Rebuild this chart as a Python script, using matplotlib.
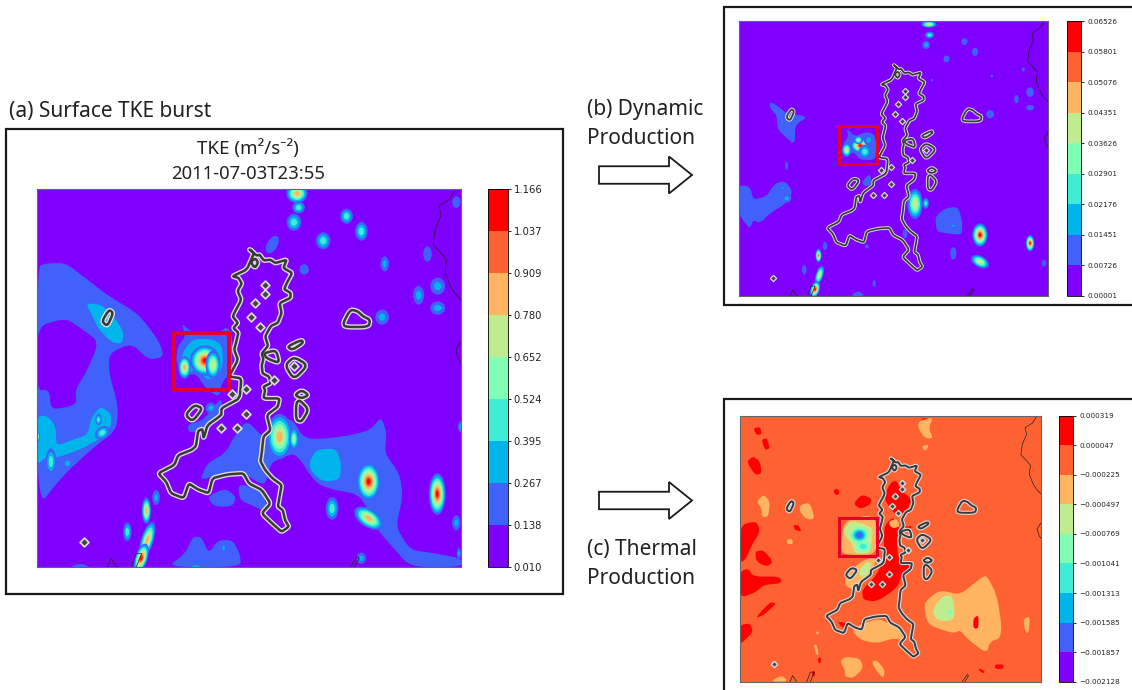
#!/usr/bin/env python3
import numpy as np
import matplotlib
matplotlib.use("Agg")
import matplotlib.pyplot as plt
from matplotlib.cm import ScalarMappable
from matplotlib.colors import BoundaryNorm, ListedColormap
from matplotlib.patches import Ellipse, FancyArrow, PathPatch, Rectangle
from matplotlib.path import Path

W, H = 1132, 690
plt.rcParams["font.family"] = ["Noto Sans", "DejaVu Sans"]

tke_levels = [0.010, 0.138, 0.267, 0.395, 0.524, 0.652, 0.780, 0.909, 1.037, 1.166]
dyn_levels = [0.00001, 0.00726, 0.01451, 0.02176, 0.02901, 0.03626, 0.04351, 0.05076, 0.05801, 0.06526]
thm_levels = [-0.002128, -0.001857, -0.001585, -0.001313, -0.001041, -0.000769, -0.000497, -0.000225, 0.000047, 0.000319]

city_outline = [(50, 15.9), (51.8, 17.6), (52.5, 17.4), (53.5, 18.9), (55.1, 18.7), (56.2, 19.6), (58.9, 18.7), (58.1, 20.9),
                (60.2, 22.2), (58.9, 24.9), (58.3, 26.5), (59.8, 27.5), (59.8, 28.8), (57.2, 30.2), (57.7, 32.8),
                (56.8, 35.4), (55.2, 36.2), (53.8, 39), (54.5, 41.5), (53, 43.5), (53.4, 45), (53, 46.6), (53.2, 48.8),
                (54.7, 49.6), (55.1, 51.4), (53.4, 52.3), (53.8, 53.2), (53.4, 55.4), (57.2, 55.4), (56.8, 57.6),
                (54.2, 59.8), (55.1, 63.8), (53.4, 65.5), (53, 69.9), (52.7, 72), (53.8, 74.3), (55.5, 76.5),
                (57.7, 78.3), (57.2, 81.4), (56.8, 84), (58, 85), (58.5, 87.6), (59.4, 89.3), (57.7, 90.7), (55.5, 88.5),
                (53, 85.8), (55.1, 83.2), (53, 79.6), (50, 77.9), (48.7, 75.2), (45, 75.5), (41.4, 76.5), (40.5, 80.5),
                (38, 79.5), (35.8, 77.9), (34.6, 81.8), (31.6, 80.5), (30.5, 77.5), (28.6, 75.2), (32.4, 73), (33.3, 70.4),
                (36.5, 69), (37.5, 68), (38, 64), (39, 63.5), (39.3, 66), (40.2, 62.5), (43.5, 59.8), (43.5, 58),
                (47.8, 55.4), (48.2, 50.1), (45.3, 49.6), (47.4, 45.2), (46.5, 42.5), (47, 40.4), (47.5, 38), (46.3, 36.8),
                (47.4, 35.4), (46.1, 33.7), (48.2, 29.3), (47.3, 27), (48.3, 25), (47.5, 23.5), (46.1, 23.1), (49.5, 21.3),
                (51.2, 16.9)]
city_islands = [
    [(72.2, 35.4), (73.9, 31.9), (75.6, 32.3), (76.9, 33.7), (78.6, 34.6), (78.2, 36.5), (72.6, 36.5)],
    [(15.3, 35), (17, 31.9), (18, 32.8), (16.6, 36.3)],
    [(58.5, 46.6), (60.6, 44.4), (63.9, 46.6), (60.6, 50.4)],
    [(35, 59.8), (37.1, 57.1), (39.1, 58), (36.7, 61.5)],
    [(60.8, 54.5), (62.4, 53.2), (64.1, 54.5), (62.4, 55.4)],
    [(61.1, 56.7), (61.9, 55.8), (64.1, 58.3), (62.4, 61.6), (61.1, 61.1)],
    [(59, 41.7), (62.4, 39.9), (62.8, 40.7), (60.2, 42.6)],
    [(53.4, 43.5), (56.4, 42.6), (57.2, 46.1), (54.2, 44.8)],
    [(50.4, 19.4), (51.4, 18.3), (52.2, 19.4), (51.4, 20.9)],
]
diamond_x = [53.8, 53.8, 51.5, 50.4, 52.7, 55.9, 49.4, 45.9, 49.4, 43.5, 47.1, 11.2, 60.6]
diamond_y = [25.3, 27.7, 30.2, 33.9, 36.5, 50.5, 53, 54.3, 59.4, 63.1, 63.1, 93.5, 46.8]
border_lines = [
    [(98.5, 0.6), (97.2, 2.8), (94.8, 4.5), (95.3, 7), (93.9, 10.7), (93.4, 14.7), (95.3, 16.9), (96.6, 18.7),
     (96.2, 22), (97.5, 25.7), (98.5, 27.5), (100, 29.3)],
    [(100, 40.4), (98.8, 42.6), (99.5, 45.2), (100, 46)],
    [(16.6, 100), (17.5, 97.7), (18.8, 100)],
    [(22.2, 100), (23.4, 96.4), (24.7, 96.4), (23.4, 100)],
    [(73.9, 100), (75.6, 97.3), (76, 97.7), (74.8, 100)],
]

# (a) TKE regions, level index -> polygons
tke_blue = [
    [(0, 20.5), (2.5, 19.6), (6.8, 19.6), (11.9, 24), (17, 28.4), (23, 32.4), (25.6, 35.4), (29, 40.7), (29.9, 44.4),
     (26.4, 45.2), (22.2, 40.8), (17, 43.5), (17, 48.8), (19.2, 57.6), (18.7, 63.8), (12.7, 69), (5.9, 76.1), (0, 84.5)],
    [(49.5, 61.1), (53.5, 66), (56, 62), (60, 60.5), (63.2, 66.4), (72.6, 65.5), (78.6, 63.8), (81.2, 60.2), (82.5, 64.6),
     (82, 69.9), (85.5, 75.2), (86.3, 81.4), (84.6, 89.3), (88, 95.5), (94, 96.4), (100, 97.7), (100, 100), (88, 100),
     (83.8, 94.6), (80.3, 90.2), (76.9, 82.3), (74.8, 80.5), (70, 79.6), (65.8, 77.9), (61.1, 70), (58.1, 70.8),
     (55.1, 72.6), (53.8, 78.7), (48.7, 75.2), (41.8, 76), (38.4, 77), (40.1, 72.6), (44.4, 69.9), (46.5, 65.5)],
    [(40.1, 81.4), (44.4, 79.2), (47, 81.4), (46.1, 84), (41.8, 84)],
    [(47.4, 77.9), (53, 79.6), (54.7, 85.8), (51.3, 84), (47.8, 82.3)],
    [(30.7, 100), (35, 96.4), (36.7, 92), (38.8, 92), (40.5, 96.4), (42.7, 92.9), (46.1, 92.9), (47.8, 96.4), (48.2, 100)],
    [(7.6, 100), (10.2, 99), (12.7, 100)],
    [(35.4, 62.4), (39.3, 61.1), (43.5, 55), (43.7, 58.9), (39.3, 63.8), (35.9, 64.6)],
    [(34.1, 35.4), (36.2, 37.7), (41.7, 39), (44.8, 36.3), (46.1, 39), (46.1, 47.9), (43.5, 51.4), (43, 55), (40.1, 53.2),
     (37.5, 48.8), (34.6, 49.6), (32.8, 46.1), (33.1, 41.7), (35, 39)],
]
tke_purple_hole = [[(0, 36.3), (6.8, 34.2), (10.3, 36.8), (14.6, 40.4), (11.9, 47.9), (9, 53.2), (9.4, 57.1), (3.3, 58.5),
                    (2.9, 53.2), (0, 53.2)]]
tke_cyan = [
    [(11.5, 30.2), (15.3, 30.6), (18.7, 34.6), (20.5, 38), (20, 41), (17.5, 40.5), (14.5, 37), (13, 33.5)],
    [(0, 60), (2.5, 60), (4.5, 63), (4.5, 68), (8, 66.5), (12, 65), (12.8, 60.5), (15, 57.5), (17.5, 59.5), (17.5, 63),
     (15, 66), (10, 69), (5, 71), (2, 71), (0, 73)],
    [(64.1, 72.6), (65.8, 69), (70.5, 68.6), (71.8, 72.6), (71.4, 77), (67.5, 77.4), (65, 75.2)],
    [(33.5, 46), (35, 42), (37, 39.7), (41, 39.7), (43.5, 41), (44, 46), (42.5, 50), (40, 50.5), (38, 47), (35.5, 49)],
]
# spots: x, y, width, height, top level, angle
tke_spots = [
    (61.3, 1.2, 5, 5, 6, 0), (61.7, 4.9, 3, 3.2, 3, 0), (60.6, 8.8, 3.5, 4.5, 3, 0), (73, 7.2, 3, 4, 3, 0),
    (76.5, 11.2, 3, 5, 3, 0), (67.5, 13.7, 3.4, 4.5, 3, 0), (55.5, 14.7, 2.5, 5, 1, 25), (63, 21.3, 2.2, 2.8, 1, 0),
    (82, 19.8, 2, 4, 2, 0), (92.1, 17.2, 2, 4, 1, 0), (98.9, 3.5, 2, 3, 1, 0), (94.5, 25.7, 3.5, 4.5, 2, 0),
    (90, 28.1, 2.6, 5, 2, 0), (94.5, 31.5, 3.5, 3.5, 2, 0), (81.4, 33.9, 3.2, 4, 2, 0), (57.2, 65.5, 6, 12, 6, 0),
    (60.6, 66.1, 2.2, 6, 4, 0), (78.2, 77.4, 5.5, 10, 8, 0), (78.2, 87.1, 8, 4.5, 6, 40), (94.4, 80.7, 4, 11, 8, 0),
    (69.6, 84.5, 3, 6, 3, 0), (98.9, 88.3, 2, 4, 2, 0), (25.8, 85.1, 2.2, 7, 6, 0), (28.1, 81.6, 1.8, 4, 2, 0),
    (21.3, 90.7, 2, 5, 3, 0), (26, 92.9, 3, 10, 6, 15), (24.6, 97.7, 3, 8, 8, 15), (3.3, 72.1, 2.5, 7, 3, 0),
    (7.2, 72.6, 2.5, 3, 2, 0), (41, 58, 2.5, 3, 2, 0), (76.5, 97.7, 2.2, 3, 2, 0), (99.5, 96.4, 1, 3, 2, 0),
    (99.8, 62.9, 1, 3, 2, 0), (44, 95, 1.2, 3, 2, 0), (37.5, 100, 4, 2, 2, 0), (0, 65.5, 1.5, 3, 5, 0),
    (14.5, 61, 1.5, 3, 3, 0), (15.4, 64.5, 3, 4, 3, 40), (39.6, 45.4, 7, 8, 8, 0), (34.8, 47.2, 3, 6, 6, 0),
    (41.5, 46.5, 3.5, 7.5, 5, 0), (16.5, 34, 1.5, 2.5, 3, 0),
]

# (b) dynamic production
dyn_blue = [
    [(10.1, 29.3), (12.8, 31.1), (15.5, 33.6), (22.5, 34.8), (18.2, 37.8), (18.2, 45.1), (14.4, 41.5), (12.5, 39),
     (12.3, 34.2), (10.1, 31.8)],
    [(0, 59.6), (3.7, 60.2), (4.7, 65), (9, 63.8), (11.7, 59), (15, 58.2), (17.5, 62), (15.5, 66.2), (10.1, 69.9),
     (6.9, 73.5), (4.7, 72.3), (3.7, 75.4), (2, 73.5), (0, 69.9)],
    [(34.9, 39), (37.6, 42), (41.4, 40.2), (44.1, 41.4), (44.6, 46.9), (44.1, 50.5), (39.2, 50.5), (37.1, 47.5),
     (35.5, 49.3), (33, 48.1), (33.8, 44.5), (35.5, 42)],
    [(39.8, 58.4), (42.5, 55.4), (43, 59.6), (40.8, 60.2)],
    [(63.5, 71.2), (66.7, 68.1), (71, 67.5), (72.4, 73.6), (72.1, 77.8), (67.2, 77.2), (64, 76.6)],
    [(36, 100), (38.7, 98), (40.9, 100)],
]
dyn_spots = [
    (61.5, 1.2, 5, 2.5, 5, 0), (61.7, 5.1, 3, 2.5, 3, 0), (60.6, 8.7, 2.5, 3, 2, 0), (73, 7.5, 2, 2.5, 1, 0),
    (76.4, 11.2, 2, 3, 1, 0), (67.2, 13.8, 2, 2.5, 1, 0), (92, 17.6, 1, 1.5, 1, 0), (94.2, 25.9, 2.5, 3.5, 1, 0),
    (89.8, 28.4, 1.5, 3, 1, 0), (94.2, 31.5, 2.5, 2, 1, 0), (81.3, 33.9, 2.5, 3, 1, 0), (62.6, 21.5, 0.8, 1, 1, 0),
    (81.8, 20, 0.8, 1, 1, 0), (57, 66.5, 5, 11, 5, 0), (60.5, 66.3, 2, 4, 3, 0), (78, 77.8, 5, 8.5, 8, 0),
    (78, 87.5, 6.5, 4, 5, 35), (94.2, 80.8, 2.8, 6, 8, 0), (69.4, 84.5, 2, 4.5, 1, 0), (98.7, 88.1, 1.5, 2.5, 1, 0),
    (25.8, 85.3, 2, 5, 7, 0), (27.9, 81.8, 1.4, 3, 1, 0), (21.2, 90.5, 1.5, 3.5, 1, 0), (26.1, 92.4, 2.5, 7, 5, 15),
    (24.7, 97.6, 3, 6, 8, 15), (3.4, 72.6, 2, 3.5, 1, 0), (14.4, 60.8, 1, 1.5, 2, 0), (15.5, 64.5, 3, 3, 2, 40),
    (69.4, 74.4, 2, 1.5, 2, 0), (43.8, 95.4, 1, 2.5, 1, 0), (53.8, 77.2, 1.5, 3.5, 1, 0), (41.4, 82, 1.2, 1.5, 1, 0),
    (15.5, 52.6, 1, 3, 1, 0), (16, 34.2, 1.5, 2.5, 3, 0), (39.3, 45.3, 6, 5, 8, 0), (34.9, 46.9, 3, 5, 5, 0),
    (40.8, 47.5, 4, 5, 3, 0), (42, 43.3, 3, 4, 2, 0), (38.7, 43.3, 3, 3, 4, 0),
]

# (c) thermal production
thm_red = [
    [(0, 41.1), (5.5, 39.6), (6.7, 43.6), (3.9, 48.6), (2.2, 53.6), (0, 55.5)],
    [(0, 58.6), (2.8, 57.4), (4.4, 60.5), (13.3, 60.5), (13.9, 63), (7.8, 63.6), (5.5, 66.2), (0, 68.6)],
    [(5, 76.2), (10, 70), (12.2, 70.6), (7.8, 75)],
    [(0, 78.7), (3.3, 78), (4.4, 81.2), (1.1, 85), (0, 85.6)],
    [(5, 51.1), (7.8, 50.5), (11.1, 54.9), (8.9, 56.8), (5.5, 54.9)],
    [(2.2, 17.3), (4.4, 15.2), (6.7, 17.3), (7.2, 21.7), (5, 22.3)],
    [(7.2, 9.1), (8.9, 8.3), (10, 12.3), (8.3, 12.9)],
    [(4.4, 4.8), (6.7, 4.1), (7.2, 7), (5.5, 7.3)],
    [(59.9, 1), (63, 1), (62, 2)],
    [(31, 27.9), (32.7, 27.3), (33, 29.8), (31.6, 29.8)],
    [(37.7, 33), (40.5, 29.6), (43.8, 31.1), (43.2, 33.6), (39.9, 35.1)],
    [(17.7, 41.1), (19.4, 41.1), (20.5, 43.6), (18.3, 43)],
    [(49.9, 25.4), (52, 24.2), (53.8, 28.6), (57.1, 31.1), (55.4, 36.2), (52.1, 38), (47.7, 31.1)],
    [(48.2, 41.1), (51, 38), (53.2, 42.4), (52.1, 46.1), (52.6, 53.6), (56.5, 55.5), (56, 58), (53.8, 59.9), (52.1, 64.9),
     (45.5, 69.9), (41, 69.3), (40.5, 65.5), (45.5, 59.9), (48.2, 52.4), (47.7, 46.1)],
    [(54.3, 41.7), (57.6, 41.4), (55.4, 43.9)],
    [(32.2, 77.4), (36, 78), (34.4, 80)],
    [(79.8, 95), (81.5, 96.2), (81, 96.9), (79.3, 95.6)],
    [(84.8, 93.5), (87.6, 93.5), (87.6, 95.2), (84.8, 95.2)],
    [(26, 91), (27, 91), (26.8, 93), (26, 93)],
    [(24, 96), (25, 96), (24.8, 98), (24, 98)],
]
thm_red_on_orange = [[(77.6, 76.2), (79.3, 74.9), (79.3, 80), (77.6, 80)]]
thm_orange = [
    [(61.5, 69.9), (66.5, 65.5), (73.2, 67.4), (79.8, 61.2), (82, 59.9), (85.4, 67.4), (87, 78.7), (86.5, 83.7),
     (83.2, 84.9), (82, 89.3), (76, 84.3), (73.2, 80.6), (71, 81.9), (62.6, 78.7), (61.5, 73.7)],
    [(37.1, 80.6), (41, 78), (46.6, 76.2), (53.2, 80.6), (54.3, 84.3), (51, 83.7), (45.5, 85.6), (40, 84.3)],
    [(33.3, 92.5), (34.9, 90.6), (39.9, 91.2), (41, 94.9), (37.7, 98.7), (34.9, 98.1), (34.9, 95.6)],
    [(43.8, 92.5), (45.5, 91.9), (48.2, 95.6), (47.7, 98.7), (45.5, 96.2)],
    [(10, 100), (13.9, 97.5), (16, 100)],
    [(19.9, 33.6), (23.2, 32.6), (24.9, 38.8), (22.2, 39.1), (19.9, 36.1)],
    [(5.5, 32.3), (7.8, 29.6), (10, 32.3), (9.4, 38), (7.2, 38), (7.2, 34.8)],
    [(59.3, 2.3), (64.3, 0.4), (62.7, 4.8), (64.3, 8.5), (61.5, 8.5), (59.3, 4.8)],
    [(60.4, 11.3), (63, 11), (61.5, 13.5)],
    [(94.2, 76.2), (96.5, 75.6), (95.9, 81.8), (94.8, 81.2)],
    [(15.5, 46.7), (17.2, 46.1), (17.7, 48.1), (16, 48.4)],
    [(34.4, 39.8), (42.1, 37.3), (45.5, 39.2), (45.5, 52.3), (36, 52.3), (33.5, 51.1)],
    [(34.9, 61.2), (39.9, 54.9), (44.9, 53), (44.9, 56.2), (41, 62.5), (37.7, 65.6), (34.9, 63.7)],
    [(49.3, 39.9), (52.1, 38.6), (53.2, 41.7), (50.5, 42.4)],
    [(25, 81.5), (26.3, 81), (26, 82.5)],
    [(24.5, 86), (25.5, 86), (26.2, 90), (25.4, 90)],
]
thm_green = [
    [(64.3, 72.4), (67.1, 68), (70.4, 67.4), (71.5, 72.4), (71, 76.8), (66.5, 77.4), (64.3, 74.9)],
    [(34.4, 43), (36.6, 39.6), (41, 40.5), (44.3, 42.4), (43.8, 47.4), (43.2, 51.8), (38.2, 51.8), (37.1, 48), (34.9, 44.9)],
    [(39.3, 58.6), (42.1, 54.9), (43.8, 55.5), (42.1, 60.5), (39.9, 60.5)],
]
thm_spots = [(39.7, 44.9, 6, 6, 1, 0), (41, 49.2, 5, 4, 3, 0), (69.8, 74.1, 1.5, 2, 4, 0)]

colors = plt.get_cmap("rainbow", 9)(np.arange(9))


def blob(points, k=0.35):
    # closed outline, corners rounded over a share k of each edge
    pts = np.array(points, dtype=float)
    prev = np.roll(pts, 1, axis=0)
    nxt = np.roll(pts, -1, axis=0)
    verts, codes = [], []
    for p, a, b in zip(pts, prev, nxt):
        verts += [p + k * (a - p), p, p + k * (b - p)]
        codes += [Path.LINETO, Path.CURVE3, Path.CURVE3]
    codes[0] = Path.MOVETO
    verts.append(verts[0])
    codes.append(Path.CLOSEPOLY)
    return Path(verts, codes)


def fill(ax, polys, level):
    for poly in polys:
        ax.add_patch(PathPatch(blob(poly), fc=colors[level], ec="none"))


def add_spots(ax, spots, base=0):
    for x, y, w, h, top, angle in spots:
        step = 1 if top > base else -1
        steps = list(range(base + step, top + step, step))
        n = len(steps)
        last = max(0.15, 0.6 - 0.06 * n)
        for i, level in enumerate(steps):
            f = 1 - (1 - last) * i / max(n - 1, 1)
            ax.add_patch(Ellipse((x, y), w * f, h * f, angle=angle, fc=colors[level], ec="none"))


def add_city(ax, lw, dsize):
    shapes = [blob(city_outline, 0.2)] + [blob(p) for p in city_islands]
    for path in shapes:
        ax.add_patch(PathPatch(path, fc="none", ec="#dcdcdc", lw=lw * 2.1, joinstyle="round"))
    for path in shapes:
        ax.add_patch(PathPatch(path, fc="none", ec="#3a3a3a", lw=lw, joinstyle="round"))
    ax.scatter(diamond_x, diamond_y, s=dsize, marker="D", fc="#444444", ec="#dcdcdc", lw=lw * 0.7, zorder=3)
    for line in border_lines:
        xs, ys = zip(*line)
        ax.plot(xs, ys, color="#222222", lw=0.5)


def make_map(box):
    l, t, r, b = box
    ax = fig.add_axes([l / W, 1 - b / H, (r - l) / W, (b - t) / H])
    ax.set_xlim(0, 100)
    ax.set_ylim(100, 0)
    ax.set_xticks([])
    ax.set_yticks([])
    for s in ax.spines.values():
        s.set_color("#666666")
        s.set_linewidth(0.8)
    return ax


def make_cbar(box, levels, fmt, size):
    l, t, r, b = box
    cax = fig.add_axes([l / W, 1 - b / H, (r - l) / W, (b - t) / H])
    mappable = ScalarMappable(BoundaryNorm(levels, 9), ListedColormap(colors))
    cb = fig.colorbar(mappable, cax=cax, ticks=levels, spacing="uniform")
    cb.ax.set_yticklabels([fmt.format(v).replace("-", "\u2212") for v in levels], family="DejaVu Sans", fontsize=size,
                          color="#222222")
    cb.ax.tick_params(length=2.5, width=0.6, pad=2)
    cb.outline.set_linewidth(0.6)


fig = plt.figure(figsize=(W / 100, H / 100), dpi=100, facecolor="white")

# page layer in pixels: frames, labels, arrows
page = fig.add_axes([0, 0, 1, 1])
page.set_xlim(0, W)
page.set_ylim(H, 0)
page.axis("off")
for x0, y0, x1, y1 in [(6, 129, 563, 594), (724, 7, 1140, 305), (724, 399, 1140, 700)]:
    page.add_patch(Rectangle((x0, y0), x1 - x0, y1 - y0, fc="white", ec="#1a1a1a", lw=1.6))
for y in [175, 500.5]:
    page.add_patch(FancyArrow(599, y, 93, 0, width=17.5, head_width=37, head_length=23, length_includes_head=True,
                              fc="white", ec="#1a1a1a", lw=1.3))
label_size = 15
page.text(9, 112, "(a) Surface TKE burst", fontsize=label_size, va="center", color="#222222")
page.text(587, 109, "(b) Dynamic", fontsize=label_size, va="center", color="#222222")
page.text(587, 138, "Production", fontsize=label_size, va="center", color="#222222")
page.text(587, 549, "(c) Thermal", fontsize=label_size, va="center", color="#222222")
page.text(587, 578, "Production", fontsize=label_size, va="center", color="#222222")
page.text(248, 149, "TKE (m\u00b2/s\u207b\u00b2)", fontsize=13.5, ha="center", va="center", color="#222222")
page.text(248, 174, "2011-07-03T23:55", fontsize=13.3, ha="center", va="center", color="#222222")

# (a)
ax_a = make_map((37, 189, 461, 567))
ax_a.set_facecolor(colors[0])
fill(ax_a, tke_blue, 1)
fill(ax_a, tke_purple_hole, 0)
fill(ax_a, tke_cyan, 2)
add_spots(ax_a, tke_spots)
add_city(ax_a, 1.8, 20)
ax_a.add_patch(Rectangle((32.2, 38.1), 13.0, 15.1, fc="none", ec="#e4002b", lw=2.8))
make_cbar((488, 189, 507.5, 567), tke_levels, "{:.3f}", 7.2)

# (b)
ax_b = make_map((738.7, 21, 1048, 296))
ax_b.set_facecolor(colors[0])
fill(ax_b, dyn_blue, 1)
add_spots(ax_b, dyn_spots)
add_city(ax_b, 1.25, 10)
ax_b.add_patch(Rectangle((32.5, 38.2), 12.3, 13.8, fc="none", ec="#e4002b", lw=2.2))
make_cbar((1067, 21, 1081, 296), dyn_levels, "{:.5f}", 5.2)

# (c)
ax_c = make_map((740, 415.7, 1040.7, 681.7))
ax_c.set_facecolor(colors[7])
fill(ax_c, thm_red, 8)
fill(ax_c, thm_orange, 6)
fill(ax_c, thm_red_on_orange, 8)
fill(ax_c, thm_green, 5)
add_spots(ax_c, thm_spots, base=5)
add_city(ax_c, 1.4, 10)
ax_c.add_patch(Rectangle((33, 38.6), 12.7, 14.3, fc="none", ec="#e4002b", lw=2.2))
make_cbar((1059.3, 415.7, 1073, 681.7), thm_levels, "{:.6f}", 5.2)

fig.savefig("out.png", dpi=100)
